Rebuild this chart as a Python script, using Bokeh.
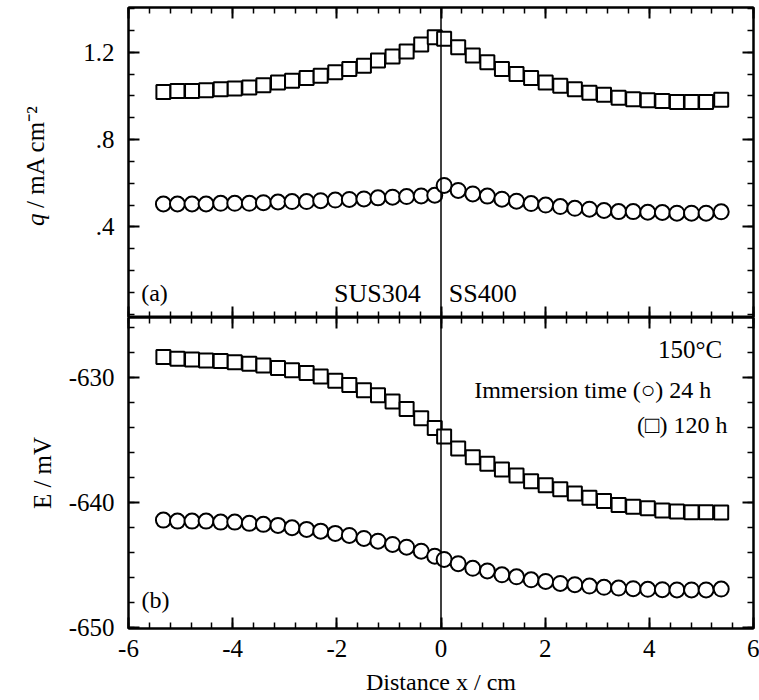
import math
from bokeh.plotting import figure
from bokeh.models import Range1d, FixedTicker, LinearAxis, Span, Label, CustomLabelingPolicy
from bokeh.layouts import column, row
from bokeh.embed import file_html
from bokeh.resources import INLINE

FONT = "Liberation Serif"

# ---- data ----
x_pos = [-5.33, -5.06, -4.78, -4.51, -4.23, -3.96, -3.68, -3.41, -3.13, -2.86,
         -2.58, -2.31, -2.03, -1.76, -1.48, -1.21, -0.93, -0.66, -0.38, -0.12,
         0.06, 0.33, 0.61, 0.89, 1.17, 1.45, 1.73, 2.01, 2.29, 2.57,
         2.85, 3.13, 3.41, 3.69, 3.97, 4.25, 4.53, 4.81, 5.09, 5.38]

q_24h = [0.505, 0.505, 0.505, 0.505, 0.508, 0.508, 0.508, 0.511, 0.514, 0.516,
         0.516, 0.520, 0.523, 0.526, 0.528, 0.533, 0.536, 0.539, 0.542, 0.545,
         0.590, 0.567, 0.551, 0.541, 0.527, 0.518, 0.507, 0.500, 0.493, 0.485,
         0.481, 0.475, 0.470, 0.470, 0.467, 0.466, 0.463, 0.463, 0.463, 0.469]

q_120h = [1.018, 1.023, 1.023, 1.026, 1.031, 1.034, 1.038, 1.049, 1.062, 1.069,
          1.082, 1.092, 1.108, 1.123, 1.138, 1.162, 1.180, 1.203, 1.235, 1.269,
          1.262, 1.223, 1.185, 1.154, 1.123, 1.100, 1.082, 1.062, 1.046, 1.031,
          1.015, 1.005, 0.992, 0.985, 0.980, 0.977, 0.972, 0.972, 0.972, 0.982]

E_24h = [-641.39, -641.47, -641.47, -641.47, -641.55, -641.55, -641.65, -641.73, -641.81, -642.00,
         -642.13, -642.27, -642.45, -642.61, -642.85, -643.07, -643.33, -643.55, -643.87, -644.27,
         -644.53, -644.87, -645.24, -645.45, -645.76, -645.92, -646.16, -646.29, -646.45, -646.55,
         -646.66, -646.76, -646.82, -646.87, -646.92, -646.95, -646.97, -646.97, -646.97, -646.90]

E_120h = [-628.36, -628.49, -628.55, -628.63, -628.68, -628.77, -628.90, -629.04, -629.23, -629.42,
          -629.64, -629.92, -630.25, -630.60, -631.01, -631.42, -631.92, -632.52, -633.26, -634.03,
          -634.71, -635.66, -636.37, -636.89, -637.34, -637.82, -638.29, -638.61, -638.92, -639.26,
          -639.61, -639.87, -640.18, -640.32, -640.45, -640.63, -640.71, -640.76, -640.76, -640.79]

x_ticks = [-6, -4, -2, 0, 2, 4, 6]
x_tick_labels = ["-6", "-4", "-2", "0", "2", "4", "6"]
q_ticks = [0.4, 0.8, 1.2]
q_tick_labels = [".4", ".8", "1.2"]
E_ticks = [-650, -640, -630]
E_tick_labels = ["-650", "-640", "-630"]

x_minor = [round(-6 + 0.4 * i, 2) for i in range(31)]
q_minor = [round(0.1 * i, 2) for i in range(15)]
E_minor = [-650 + 2 * i for i in range(13)]

TICK_FS = "25px"
NO_LABELS = CustomLabelingPolicy(code="return []")


def style_axis(ax, labels):
    ax.axis_line_color = "black"
    ax.axis_line_width = 2
    ax.major_tick_in = 11
    ax.major_tick_out = 0
    ax.minor_tick_in = 6
    ax.minor_tick_out = 0
    ax.major_tick_line_color = "black"
    ax.major_tick_line_width = 2
    ax.minor_tick_line_color = "black"
    ax.minor_tick_line_width = 1.5
    if labels:
        ax.major_label_text_font = FONT
        ax.major_label_text_font_size = TICK_FS
        ax.major_label_text_color = "black"
    else:
        ax.major_label_text_font_size = "0px"
        ax.major_label_standoff = 0
        ax.major_label_policy = NO_LABELS
        ax.axis_label = None


def add_axes(p, xt, xl, xm, yt, yl, ym, bottom_labels):
    xover = {t: l for t, l in zip(xt, xl)}
    yover = {t: l for t, l in zip(yt, yl)}
    left = LinearAxis(ticker=FixedTicker(ticks=yt, minor_ticks=ym), major_label_overrides=yover)
    style_axis(left, True)
    left.major_label_standoff = 14
    right = LinearAxis(ticker=FixedTicker(ticks=yt, minor_ticks=ym))
    style_axis(right, False)
    above = LinearAxis(ticker=FixedTicker(ticks=xt, minor_ticks=xm))
    style_axis(above, False)
    below = LinearAxis(ticker=FixedTicker(ticks=xt, minor_ticks=xm), major_label_overrides=xover)
    style_axis(below, bottom_labels)
    p.add_layout(left, "left")
    p.add_layout(right, "right")
    p.add_layout(above, "above")
    p.add_layout(below, "below")
    return left, below


def make_fig(yr, fh, mb_left, mb_top, mb_bottom):
    p = figure(frame_width=625, frame_height=fh, x_range=Range1d(-6, 6), y_range=yr,
               x_axis_type=None, y_axis_type=None, output_backend="svg",
               toolbar_location=None, min_border_left=mb_left, min_border_right=6,
               min_border_top=mb_top, min_border_bottom=mb_bottom)
    p.outline_line_color = "black"
    p.outline_line_width = 2
    p.background_fill_color = "white"
    p.border_fill_color = "white"
    p.add_layout(Span(location=0, dimension="height", line_color="black", line_width=1.5))
    return p


def lab(p, x, y, text, size, align="center", style="normal", angle=0.0, baseline="middle"):
    p.add_layout(Label(x=x, y=y, text=text, text_font=FONT, text_font_size=size,
                       text_font_style=style, text_color="black", angle=angle,
                       text_align=align, text_baseline=baseline))


# ---------------- top panel (a) ----------------
top = make_fig(Range1d(-0.015, 1.405), 310, 66, 7, 0)
add_axes(top, x_ticks, x_tick_labels, x_minor, q_ticks, q_tick_labels, q_minor, False)
top.scatter(x_pos, q_120h, marker="square", size=14, fill_color="white",
            line_color="black", line_width=2)
top.scatter(x_pos, q_24h, marker="circle", size=15, fill_color="white",
            line_color="black", line_width=2)

lab(top, -5.50, 0.0995, "(a)", "24px")
lab(top, -0.39, 0.095, "SUS304", "26px", align="right")
lab(top, 0.15, 0.095, "SS400", "26px", align="left")

# left strip carrying the y title of panel (a): italic q / mA cm-2 (pixel-like coordinates)
ttl = figure(width=62, height=317, x_range=Range1d(0, 62), y_range=Range1d(317, 0),
             x_axis_type=None, y_axis_type=None, output_backend="svg",
             toolbar_location=None, min_border=0)
ttl.outline_line_color = None
ttl.background_fill_color = "white"
ttl.border_fill_color = "white"
lab(ttl, 35, 217, "q", "25px", style="italic", angle=math.pi / 2, baseline="alphabetic")
lab(ttl, 35, 205, "/ mA cm\u207b\u00b2", "25px", align="left", angle=math.pi / 2,
    baseline="alphabetic")

# ---------------- bottom panel (b) ----------------
bot = make_fig(Range1d(-650.05, -625.2), 311, 128, 0, 2)
left_b, below_b = add_axes(bot, x_ticks, x_tick_labels, x_minor, E_ticks, E_tick_labels, E_minor, True)
left_b.axis_label = "E / mV"
left_b.axis_label_text_font = FONT
left_b.axis_label_text_font_size = "25px"
left_b.axis_label_text_font_style = "normal"
left_b.axis_label_text_color = "black"
left_b.axis_label_standoff = 10
below_b.major_label_standoff = 11
below_b.axis_label = "Distance x / cm"
below_b.axis_label_text_font = FONT
below_b.axis_label_text_font_size = "24px"
below_b.axis_label_text_font_style = "normal"
below_b.axis_label_text_color = "black"
below_b.axis_label_standoff = 9

bot.scatter(x_pos, E_120h, marker="square", size=14, fill_color="white",
            line_color="black", line_width=2)
bot.scatter(x_pos, E_24h, marker="circle", size=15, fill_color="white",
            line_color="black", line_width=2)

lab(bot, -5.48, -647.81, "(b)", "24px")
lab(bot, 5.40, -627.76, "150\u00b0C", "25px", align="right")
lab(bot, 5.19, -631.03, "Immersion time (\u25cb) 24 h", "24px", align="right")
lab(bot, 5.50, -633.75, "(\u25a1) 120 h", "24px", align="right")

layout = column(row(ttl, top, spacing=0), bot, spacing=0)
open("out.html", "w").write(file_html(layout, INLINE))
